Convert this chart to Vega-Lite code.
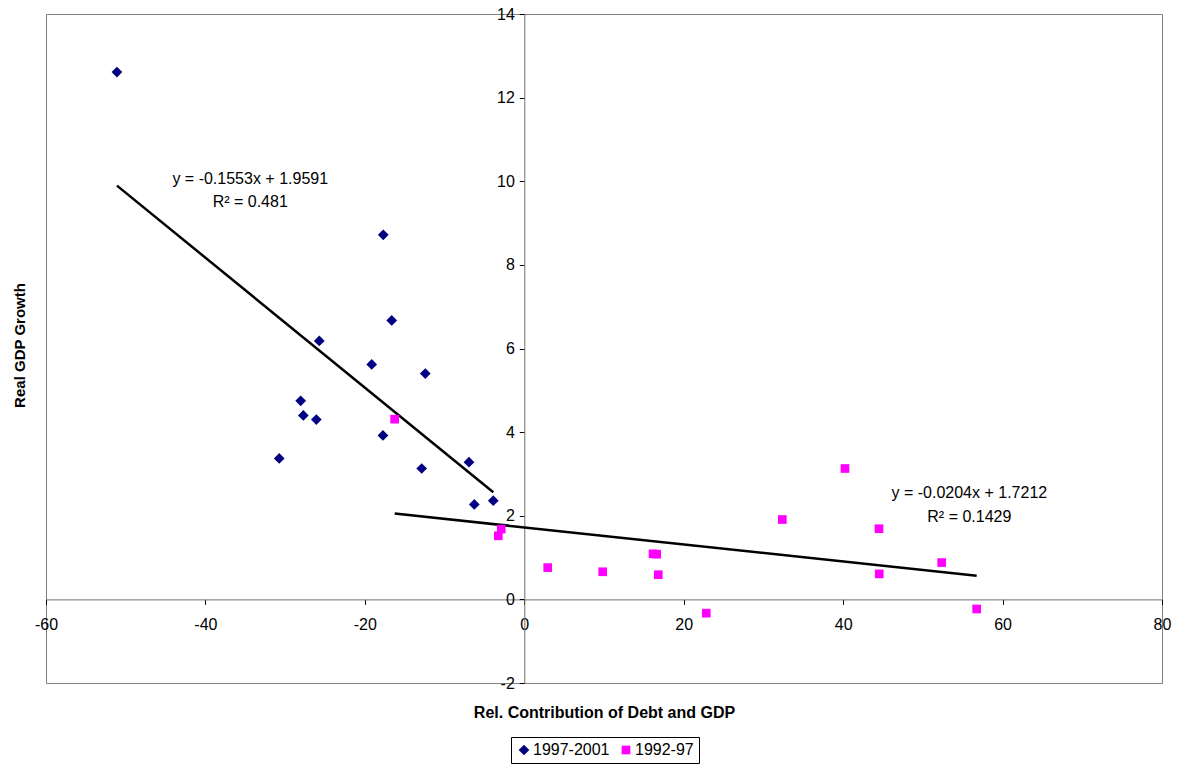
{
  "$schema": "https://vega.github.io/schema/vega-lite/v6.json",
  "width": 1116,
  "height": 669,
  "autosize": {"type": "none"},
  "padding": {"left": 46, "top": 14, "right": 18, "bottom": 81},
  "background": "white",
  "config": {
    "font": "Liberation Sans",
    "view": {"stroke": "#808080", "strokeWidth": 1, "fill": "white"}
  },
  "datasets": {
    "points": [
      {"x": -51.1, "y": 12.61, "series": "1997-2001"},
      {"x": -17.69, "y": 8.72, "series": "1997-2001"},
      {"x": -16.63, "y": 6.67, "series": "1997-2001"},
      {"x": -25.72, "y": 6.18, "series": "1997-2001"},
      {"x": -19.14, "y": 5.62, "series": "1997-2001"},
      {"x": -12.42, "y": 5.40, "series": "1997-2001"},
      {"x": -28.05, "y": 4.75, "series": "1997-2001"},
      {"x": -27.72, "y": 4.40, "series": "1997-2001"},
      {"x": -26.09, "y": 4.30, "series": "1997-2001"},
      {"x": -17.73, "y": 3.92, "series": "1997-2001"},
      {"x": -30.74, "y": 3.37, "series": "1997-2001"},
      {"x": -6.94, "y": 3.28, "series": "1997-2001"},
      {"x": -12.87, "y": 3.13, "series": "1997-2001"},
      {"x": -6.27, "y": 2.27, "series": "1997-2001"},
      {"x": -3.89, "y": 2.36, "series": "1997-2001"},
      {"x": -16.26, "y": 4.31, "series": "1992-97"},
      {"x": -3.26, "y": 1.52, "series": "1992-97"},
      {"x": -2.89, "y": 1.68, "series": "1992-97"},
      {"x": 2.94, "y": 0.76, "series": "1992-97"},
      {"x": 9.84, "y": 0.66, "series": "1992-97"},
      {"x": 16.15, "y": 1.09, "series": "1992-97"},
      {"x": 16.61, "y": 1.08, "series": "1992-97"},
      {"x": 16.81, "y": 0.59, "series": "1992-97"},
      {"x": 22.83, "y": -0.33, "series": "1992-97"},
      {"x": 32.37, "y": 1.91, "series": "1992-97"},
      {"x": 40.23, "y": 3.13, "series": "1992-97"},
      {"x": 44.50, "y": 1.69, "series": "1992-97"},
      {"x": 44.53, "y": 0.61, "series": "1992-97"},
      {"x": 52.36, "y": 0.88, "series": "1992-97"},
      {"x": 56.75, "y": -0.23, "series": "1992-97"}
    ],
    "trend": [
      {"x": -51.1, "y": 9.895, "line": "A"},
      {"x": -3.89, "y": 2.563, "line": "A"},
      {"x": -16.26, "y": 2.053, "line": "B"},
      {"x": 56.75, "y": 0.5635, "line": "B"}
    ],
    "labels": [
      {"x": -34.38, "y": 10.05, "label": "y = -0.1553x + 1.9591"},
      {"x": -34.38, "y": 9.50, "label": "R² = 0.481"},
      {"x": 55.83, "y": 2.54, "label": "y = -0.0204x + 1.7212"},
      {"x": 55.83, "y": 1.97, "label": "R² = 0.1429"}
    ]
  },
  "encoding": {
    "x": {
      "field": "x",
      "type": "quantitative",
      "scale": {"domain": [-60, 80], "nice": false, "zero": false},
      "axis": {
        "orient": "bottom",
        "offset": -83.6,
        "values": [-60, -40, -20, 0, 20, 40, 60, 80],
        "labelExpr": "'' + datum.value",
        "title": "Rel. Contribution of Debt and GDP",
        "titleFontSize": 16,
        "titleFontWeight": "bold",
        "titleColor": "#000",
        "titleY": 117.6,
        "titleBaseline": "alphabetic",
        "labelFontSize": 16,
        "labelColor": "#000",
        "labelFlush": false,
        "labelOverlap": false,
        "tickSize": 5,
        "labelPadding": 12,
        "grid": false,
        "domainColor": "#707070",
        "tickColor": "#000"
      }
    },
    "y": {
      "field": "y",
      "type": "quantitative",
      "scale": {"domain": [-2, 14], "nice": false, "zero": false},
      "axis": {
        "orient": "left",
        "offset": -478.3,
        "values": [-2, 0, 2, 4, 6, 8, 10, 12, 14],
        "labelExpr": "'' + datum.value",
        "title": "Real GDP Growth",
        "titleFontSize": 15,
        "titleFontWeight": "bold",
        "titleColor": "#000",
        "titleX": -504.6,
        "titleY": 331,
        "titleAngle": -90,
        "titleBaseline": "middle",
        "labelFontSize": 16,
        "labelColor": "#000",
        "labelFlush": false,
        "labelOverlap": false,
        "tickSize": 5,
        "labelPadding": 5,
        "grid": false,
        "domainColor": "#707070",
        "tickColor": "#000"
      }
    }
  },
  "layer": [
    {
      "data": {"name": "trend"},
      "mark": {"type": "line", "color": "black", "strokeWidth": 2.5},
      "encoding": {"detail": {"field": "line"}}
    },
    {
      "data": {"name": "points"},
      "mark": {"type": "point", "filled": true, "opacity": 1},
      "encoding": {
        "size": {
          "field": "series",
          "type": "nominal",
          "scale": {"domain": ["1997-2001", "1992-97"], "range": [115, 75]},
          "legend": null
        },
        "color": {
          "field": "series",
          "type": "nominal",
          "scale": {"domain": ["1997-2001", "1992-97"], "range": ["#000080", "#FF00FF"]},
          "legend": {
            "title": null,
            "orient": "none",
            "legendX": 465,
            "legendY": 723,
            "direction": "horizontal",
            "strokeColor": "#000",
            "fillColor": "white",
            "padding": 5,
            "labelFontSize": 16,
            "labelColor": "#000",
            "symbolSize": 55,
            "columnPadding": 8,
            "labelOffset": 1
          }
        },
        "shape": {
          "field": "series",
          "type": "nominal",
          "scale": {"domain": ["1997-2001", "1992-97"], "range": ["diamond", "square"]},
          "legend": {
            "title": null,
            "orient": "none",
            "legendX": 465,
            "legendY": 723,
            "direction": "horizontal",
            "strokeColor": "#000",
            "fillColor": "white",
            "padding": 5,
            "labelFontSize": 16,
            "labelColor": "#000",
            "symbolSize": 55,
            "columnPadding": 8,
            "labelOffset": 1
          }
        }
      }
    },
    {
      "data": {"name": "labels"},
      "mark": {"type": "text", "fontSize": 16, "color": "#000", "align": "center", "baseline": "middle"},
      "encoding": {"text": {"field": "label"}}
    }
  ]
}
